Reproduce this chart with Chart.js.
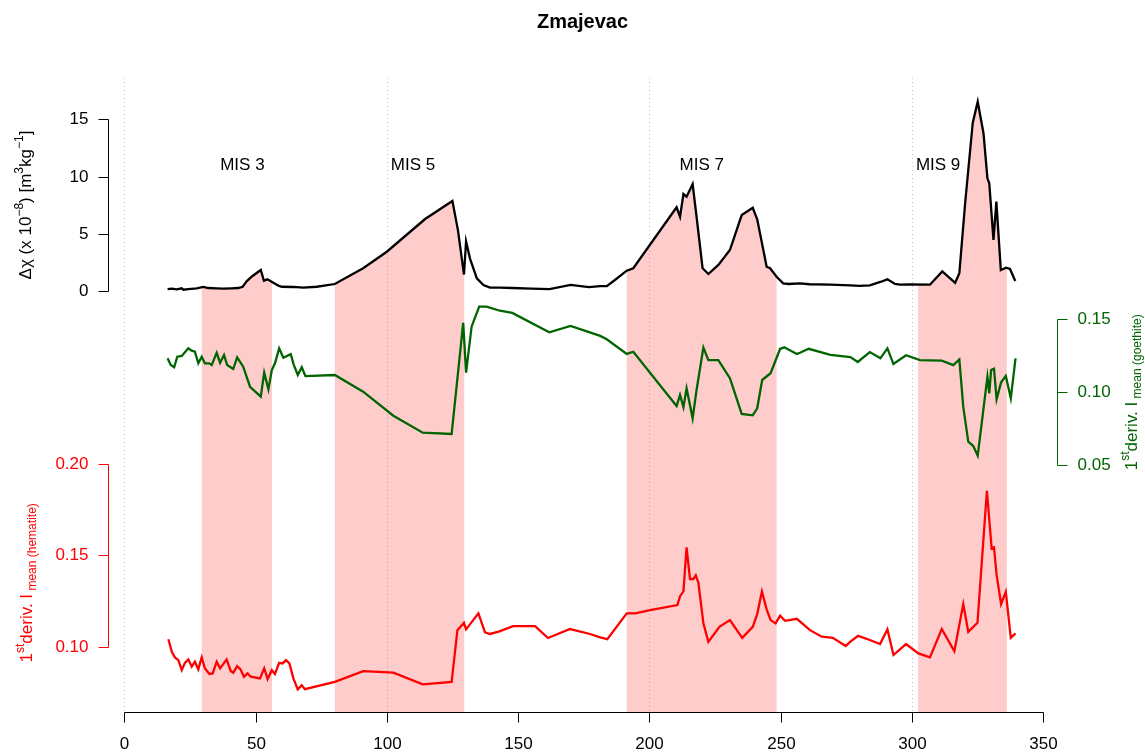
<!DOCTYPE html>
<html>
<head>
<meta charset="utf-8">
<title>Zmajevac</title>
<script src="https://cdn.jsdelivr.net/npm/chart.js@4.4.1/dist/chart.umd.min.js"></script>
<style>
  html, body { margin: 0; padding: 0; background: #fff; }
  canvas { display: block; }
</style>
</head>
<body>
<canvas id="zmajevac" width="1145" height="753"></canvas>
<script>
// Magnetic enhancement (Δχ) and DRS first-derivative intensities, Zmajevac section
const dchiAge = [
  16.5, 18.1, 20.0, 21.9, 22.5, 24.4, 27.6, 30.1, 32.0, 35.2, 37.7, 40.9, 43.4, 45.1,
  46.6, 48.5, 52.0, 53.2, 54.5, 55.5, 58.7, 60.0, 64.4, 68.2, 73.3, 80.2, 91.0, 100.0,
  114.6, 125.0, 127.1, 129.4, 130.2, 131.7, 134.3, 136.8, 139.3, 143.1, 147.8, 155.0,
  162.0, 170.0, 177.0, 181.3, 183.8, 186.9, 191.4, 193.9, 210.4, 211.7, 213.0, 214.2,
  216.5, 218.0, 220.3, 222.5, 226.3, 230.7, 235.2, 239.4, 241.1, 244.7, 246.0, 248.5,
  251.0, 253.0, 257.4, 261.0, 269.0, 276.6, 280.0, 284.0, 288.0, 290.7, 293.6, 295.5,
  299.3, 306.9, 311.6, 316.5, 318.1, 320.3, 323.2, 325.1, 327.3, 328.8, 329.5, 331.1,
  332.2, 333.9, 335.9, 337.4, 339.4,
];
const dchi = [
  0.13, 0.16, 0.10, 0.19, 0.07, 0.13, 0.19, 0.31, 0.22, 0.19, 0.16, 0.19, 0.22, 0.33,
  0.80, 1.21, 1.80, 0.86, 0.98, 0.86, 0.42, 0.33, 0.31, 0.25, 0.33, 0.57, 1.95, 3.40,
  6.27, 7.85, 5.30, 1.40, 4.30, 2.80, 1.07, 0.48, 0.25, 0.25, 0.22, 0.17,
  0.13, 0.50, 0.30, 0.39, 0.39, 0.92, 1.74, 1.95, 7.30, 6.47, 8.46, 8.23,
  9.34, 6.47, 1.95, 1.45, 2.24, 3.55, 6.62, 7.26, 6.25, 2.09, 1.95, 1.21,
  0.63, 0.57, 0.63, 0.55, 0.52, 0.45, 0.40, 0.45, 0.75, 0.98, 0.57, 0.51,
  0.54, 0.51, 1.68, 0.68, 1.51, 7.65, 14.70, 16.56, 13.80, 9.84, 9.40, 4.43,
  7.79, 1.80, 2.00, 1.89, 0.83,
];

const goeAge = [
  16.5, 17.7, 19.0, 20.2, 21.9, 24.4, 25.7, 26.9, 28.2, 29.5, 30.7, 32.4, 33.3, 35.2,
  36.5, 38.0, 39.2, 41.5, 43.0, 45.3, 47.9, 52.0, 53.3, 54.9, 56.2, 57.4, 59.0, 60.6,
  63.4, 64.6, 66.1, 67.6, 69.0, 80.2, 91.0, 102.5, 113.7, 124.7, 129.1, 130.2, 132.3,
  135.2, 138.0, 143.1, 147.8, 161.9, 170.0, 181.3, 183.8, 191.4, 193.9, 210.4, 211.7,
  213.0, 214.2, 216.5, 218.0, 220.6, 222.5, 226.3, 230.7, 235.2, 239.4, 241.1, 243.0,
  246.2, 249.8, 251.4, 256.2, 257.4, 260.7, 269.0, 276.6, 279.4, 284.0, 288.0, 290.7,
  293.0, 297.8, 303.1, 311.4, 315.8, 318.1, 319.6, 321.5, 323.4, 325.1, 328.8, 329.5,
  330.2, 331.3, 332.3, 334.0, 335.8, 337.7, 339.5,
];
const goethite = [
  0.1232, 0.1186, 0.1171, 0.1243, 0.1248, 0.1301, 0.1284, 0.1277, 0.1198, 0.1243, 0.1198,
  0.1198, 0.1186, 0.1270, 0.1202, 0.1255, 0.1186, 0.1159, 0.1239, 0.1175, 0.1038, 0.0970,
  0.1134, 0.1020, 0.1152, 0.1198, 0.1300, 0.1236, 0.1260, 0.1186, 0.1118, 0.1171, 0.1111,
  0.1118, 0.1004, 0.0840, 0.0724, 0.0715, 0.1475, 0.1134, 0.1448, 0.1585, 0.1585, 0.1557,
  0.1542, 0.1410, 0.1453, 0.1385, 0.1362, 0.1262, 0.1277, 0.0906, 0.0982, 0.0898, 0.1027,
  0.0822, 0.1016, 0.1305, 0.1220, 0.1220, 0.1096, 0.0852, 0.0843, 0.0891, 0.1084, 0.1130,
  0.1296, 0.1307, 0.1262, 0.1270, 0.1297, 0.1255, 0.1241, 0.1207, 0.1275, 0.1232, 0.1300,
  0.1193, 0.1253, 0.1220, 0.1216, 0.1186, 0.1225, 0.0900, 0.0663, 0.0633, 0.0567, 0.1107,
  0.0993, 0.1152, 0.1161, 0.0952, 0.1068, 0.1111, 0.0959, 0.1232,
];

const hemAge = [
  16.8, 18.1, 19.3, 20.6, 21.9, 23.1, 24.4, 25.7, 26.9, 28.2, 29.5, 30.7, 32.4, 33.7,
  35.2, 36.5, 39.0, 40.5, 41.5, 43.0, 44.3, 45.6, 46.9, 48.2, 51.7, 53.3, 54.6, 56.2,
  57.4, 59.0, 60.3, 61.6, 62.9, 64.4, 66.1, 67.6, 68.8, 80.2, 91.0, 102.5, 113.7, 124.7,
  126.9, 129.4, 130.2, 134.9, 137.4, 139.3, 142.9, 148.1, 156.5, 161.4, 169.8, 177.4,
  181.3, 184.0, 191.4, 194.6, 200.3, 210.7, 211.7, 213.0, 214.2, 215.5, 216.8, 217.7,
  218.7, 220.6, 222.5, 226.7, 230.7, 235.4, 239.4, 241.1, 242.9, 244.7, 246.2, 248.1,
  249.8, 251.7, 256.2, 261.2, 265.7, 269.9, 274.8, 276.5, 279.5, 283.5, 287.9, 290.7,
  293.0, 297.8, 302.5, 306.9, 311.4, 316.2, 319.6, 321.5, 325.0, 328.6, 330.4, 331.3,
  332.3, 334.0, 335.8, 337.7, 339.5,
];
const hematite = [
  0.1041, 0.0973, 0.0942, 0.0927, 0.0872, 0.0912, 0.0931, 0.0891, 0.0918, 0.0876, 0.0942,
  0.0882, 0.0851, 0.0854, 0.0918, 0.0882, 0.0931, 0.0869, 0.0858, 0.0894, 0.0876, 0.0836,
  0.0854, 0.0836, 0.0827, 0.0882, 0.0823, 0.0872, 0.0851, 0.0912, 0.0909, 0.0927, 0.0909,
  0.0827, 0.0767, 0.0790, 0.0768, 0.0808, 0.0867, 0.0858, 0.0794, 0.0808, 0.1091, 0.1131,
  0.1095, 0.1183, 0.1079, 0.1070, 0.1084, 0.1113, 0.1113, 0.1048, 0.1097, 0.1070, 0.1051,
  0.1042, 0.1183, 0.1183, 0.1201, 0.1228, 0.1277, 0.1303, 0.1544, 0.1371, 0.1371, 0.1391,
  0.1350, 0.1128, 0.1027, 0.1109, 0.1146, 0.1049, 0.1109, 0.1179, 0.1303, 0.1205, 0.1146,
  0.1128, 0.1170, 0.1142, 0.1153, 0.1091, 0.1055, 0.1049, 0.1004, 0.1027, 0.1060, 0.1040,
  0.1015, 0.1095, 0.0955, 0.1015, 0.0964, 0.0942, 0.1097, 0.0976, 0.1234, 0.1082, 0.1131,
  0.1854, 0.1539, 0.1544, 0.1392, 0.1234, 0.1301, 0.1049, 0.1073,
];

// Interglacial stages, shaded under the Δχ curve
const misBands = [[29.5, 56.3], [80.2, 129.5], [191.4, 248.5], [302.4, 336.2]];
const misLabels = ['MIS 3', 'MIS 5', 'MIS 7', 'MIS 9'];
const misLabelAge = [45, 110, 220, 310];
const misLabelLevel = 11;

// Tick labels
const ageTicks = [0, 50, 100, 150, 200, 250, 300, 350];
const guideAges = [0, 100, 200, 300];
const dchiTicks = [0, 5, 10, 15];
const goeTicks = [0.05, 0.10, 0.15];
const hemTicks = [0.10, 0.15, 0.20];

const FONT = '"Liberation Sans", Arial, Helvetica, sans-serif';
const BLACK = '#000000';
const GREEN = '#006400';
const RED = '#ff0000';

const toXY = (ages, vals) => ages.map((a, i) => ({ x: a, y: vals[i] }));

// rotated axis title with super/subscripts: [text, size, baseline shift]
function drawRotated(ctx, parts, bx, cy, color) {
  ctx.save();
  let len = 0;
  parts.forEach(([t, s]) => { ctx.font = `${s}px ${FONT}`; len += ctx.measureText(t).width; });
  ctx.translate(bx, cy + len / 2);
  ctx.rotate(-Math.PI / 2);
  ctx.fillStyle = color;
  ctx.textAlign = 'left';
  ctx.textBaseline = 'alphabetic';
  let cx = 0;
  parts.forEach(([t, s, dy]) => {
    ctx.font = `${s}px ${FONT}`;
    ctx.fillText(t, cx, dy);
    cx += ctx.measureText(t).width;
  });
  ctx.restore();
}

// R-style axis: line only across the tick range
function drawYAxis(ctx, scale, ticks, x, side, color) {
  const ys = ticks.map((v) => Math.round(scale.getPixelForValue(v)) + 0.5);
  const px = Math.round(x) + 0.5;
  ctx.save();
  ctx.strokeStyle = color;
  ctx.lineWidth = 1;
  ctx.beginPath();
  ctx.moveTo(px, ys[0]);
  ctx.lineTo(px, ys[ys.length - 1]);
  ys.forEach((y) => { ctx.moveTo(px, y); ctx.lineTo(px + side * 10, y); });
  ctx.stroke();
  ctx.fillStyle = color;
  ctx.font = `17px ${FONT}`;
  ctx.textBaseline = 'middle';
  ctx.textAlign = side < 0 ? 'right' : 'left';
  ticks.forEach((v, i) => {
    const label = v === 0 || v >= 1 ? String(v) : v.toFixed(2);
    ctx.fillText(label, px + side * 20, ys[i]);
  });
  ctx.restore();
}

const stagePlugin = {
  id: 'stagePlugin',
  beforeDatasetsDraw(chart) {
    const { ctx, chartArea: a, scales } = chart;
    const x = scales.x;
    const yd = scales.yDchi;

    ctx.save();
    ctx.strokeStyle = 'rgba(170,170,170,0.7)';
    ctx.lineWidth = 1;
    ctx.setLineDash([1, 3]);
    guideAges.forEach((v) => {
      const px = Math.round(x.getPixelForValue(v)) + 0.5;
      ctx.beginPath();
      ctx.moveTo(px, a.top);
      ctx.lineTo(px, a.bottom);
      ctx.stroke();
    });
    ctx.restore();

    misBands.forEach(([from, to]) => {
      const x0 = x.getPixelForValue(from);
      const x1 = x.getPixelForValue(to);
      ctx.save();
      ctx.beginPath();
      ctx.rect(x0, a.top, x1 - x0, a.bottom - a.top);
      ctx.clip();
      ctx.beginPath();
      ctx.moveTo(x.getPixelForValue(dchiAge[0]), a.bottom);
      dchiAge.forEach((t, i) => ctx.lineTo(x.getPixelForValue(t), yd.getPixelForValue(dchi[i])));
      ctx.lineTo(x.getPixelForValue(dchiAge[dchiAge.length - 1]), a.bottom);
      ctx.closePath();
      ctx.fillStyle = 'rgba(255,0,0,0.2)';
      ctx.fill();
      ctx.restore();
    });
  },
  afterDraw(chart) {
    const { ctx, chartArea: a, scales } = chart;
    const x = scales.x;

    // MIS labels
    ctx.save();
    ctx.fillStyle = BLACK;
    ctx.font = `17px ${FONT}`;
    ctx.textAlign = 'center';
    ctx.textBaseline = 'middle';
    misLabels.forEach((t, i) => {
      ctx.fillText(t, x.getPixelForValue(misLabelAge[i]), scales.yDchi.getPixelForValue(misLabelLevel));
    });
    ctx.restore();

    // age axis
    const by = Math.round(a.bottom) + 0.5;
    const xs = ageTicks.map((v) => Math.round(x.getPixelForValue(v)) + 0.5);
    ctx.save();
    ctx.strokeStyle = BLACK;
    ctx.lineWidth = 1;
    ctx.beginPath();
    ctx.moveTo(xs[0], by);
    ctx.lineTo(xs[xs.length - 1], by);
    xs.forEach((px) => { ctx.moveTo(px, by); ctx.lineTo(px, by + 10); });
    ctx.stroke();
    ctx.fillStyle = BLACK;
    ctx.font = `17px ${FONT}`;
    ctx.textAlign = 'center';
    ctx.textBaseline = 'middle';
    ageTicks.forEach((v, i) => ctx.fillText(String(v), xs[i], by + 32));
    ctx.restore();

    drawYAxis(ctx, scales.yDchi, dchiTicks, a.left, -1, BLACK);
    drawYAxis(ctx, scales.yHem, hemTicks, a.left, -1, RED);
    drawYAxis(ctx, scales.yGoe, goeTicks, a.right, 1, GREEN);

    drawRotated(ctx, [
      ['Δχ (x 10', 17, 0], ['−8', 12, -8], [') [m', 17, 0], ['3', 12, -8],
      ['kg', 17, 0], ['−1', 12, -8], [']', 17, 0],
    ], a.left - 77, scales.yDchi.getPixelForValue(7.5), BLACK);
    drawRotated(ctx, [
      ['1', 17, 0], ['st', 12, -8], ['deriv. I', 17, 0], [' mean (hematite)', 12, 3.5],
    ], a.left - 76, scales.yHem.getPixelForValue(0.135), RED);
    drawRotated(ctx, [
      ['1', 17, 0], ['st', 12, -8], ['deriv. I', 17, 0], [' mean (goethite)', 12, 3.5],
    ], a.right + 80, scales.yGoe.getPixelForValue(0.10), GREEN);
  },
};

const line = (data, color, axis, width) => ({
  data,
  yAxisID: axis,
  borderColor: color,
  borderWidth: width,
  pointRadius: 0,
  tension: 0,
  fill: false,
});

new Chart(document.getElementById('zmajevac'), {
  type: 'line',
  data: {
    datasets: [
      line(toXY(dchiAge, dchi), BLACK, 'yDchi', 2.3),
      line(toXY(goeAge, goethite), GREEN, 'yGoe', 2.3),
      line(toXY(hemAge, hematite), RED, 'yHem', 2.3),
    ],
  },
  options: {
    responsive: false,
    animation: false,
    layout: { padding: { left: 108, right: 88, top: 10, bottom: 41 } },
    scales: {
      x: { type: 'linear', min: -6.2, max: 355.3, display: false },
      yDchi: { type: 'linear', min: -36.97, max: 18.64, display: false },
      yGoe: { type: 'linear', min: -0.1184, max: 0.3147, display: false },
      yHem: { type: 'linear', min: 0.0643, max: 0.4113, display: false },
    },
    plugins: {
      legend: { display: false },
      tooltip: { enabled: false },
      title: {
        display: true,
        text: 'Zmajevac',
        color: BLACK,
        font: { family: FONT, size: 20, weight: 'bold' },
        padding: { top: 0, bottom: 44 },
      },
    },
  },
  plugins: [stagePlugin],
});
</script>
</body>
</html>
